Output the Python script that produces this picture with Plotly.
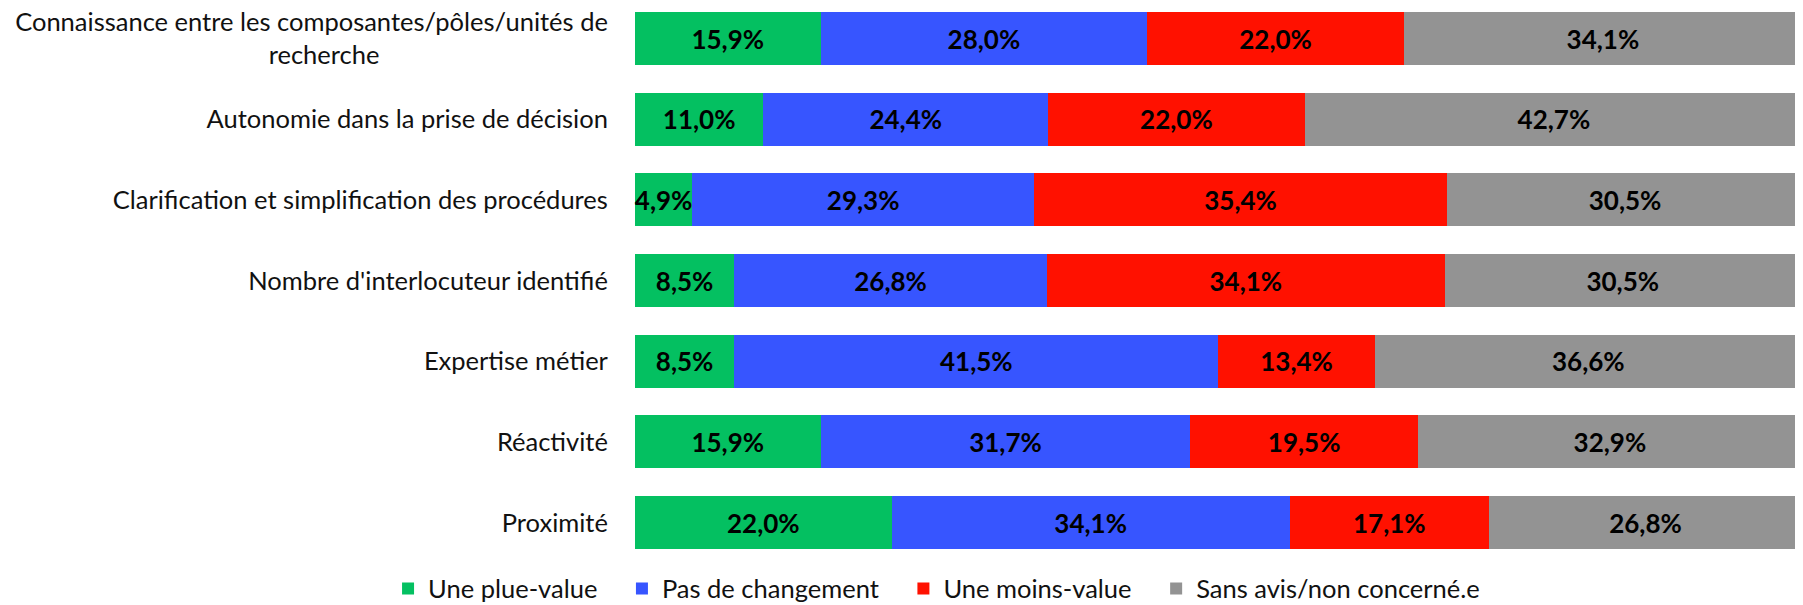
import plotly.graph_objects as go

categories = [
    "Connaissance entre les composantes/pôles/unités de<br>recherche" + "\u00a0" * 35,
    "Autonomie dans la prise de décision",
    "Clarification et simplification des procédures",
    "Nombre d'interlocuteur identifié",
    "Expertise métier",
    "Réactivité",
    "Proximité",
]
series_names = ["Une plue-value", "Pas de changement", "Une moins-value", "Sans avis/non concerné.e"]
plus_value = [15.9, 11.0, 4.9, 8.5, 8.5, 15.9, 22.0]
pas_changement = [28.0, 24.4, 29.3, 26.8, 41.5, 31.7, 34.1]
moins_value = [22.0, 22.0, 35.4, 34.1, 13.4, 19.5, 17.1]
sans_avis = [34.1, 42.7, 30.5, 30.5, 36.6, 32.9, 26.8]
colors = ["#04C061", "#3755FF", "#FF1100", "#939393"]

FONT = "Source Sans Pro, Lato, sans-serif"
PAD = "\u00a0" * 3

fig = go.Figure()
for i, (name, vals, col) in enumerate(zip(series_names, [plus_value, pas_changement, moins_value, sans_avis], colors)):
    fig.add_trace(go.Bar(
        y=categories, x=vals, name=name + (PAD if i < 3 else ""), orientation="h",
        marker=dict(color=col, line=dict(width=0)),
        texttemplate="%{x:.1f}%", textposition="inside", insidetextanchor="middle",
        textangle=0, constraintext="none", cliponaxis=False,
        textfont=dict(family=FONT, size=26, color="black", weight="bold"),
    ))

fig.update_layout(
    barmode="stack", bargap=0.343, separators=",.",
    width=1795, height=597,
    margin=dict(l=627, r=0, t=0, b=42, autoexpand=False),
    plot_bgcolor="white", paper_bgcolor="white",
    font=dict(family=FONT, size=25.5, color="#111111"),
    showlegend=True,
    legend=dict(orientation="h", xref="container", yref="container", x=0.5173, xanchor="center",
                y=0.027, yanchor="middle", font=dict(size=25.5, color="#111111"), traceorder="normal",
                itemwidth=30),
    xaxis=dict(range=[0, 100.1], visible=False, fixedrange=True),
    yaxis=dict(range=[6.5, -0.378], showgrid=False, showline=False, zeroline=False, automargin=False,
               ticks="outside", ticklen=0, ticklabelstandoff=21, fixedrange=True),
)
fig.write_html("out.html")
